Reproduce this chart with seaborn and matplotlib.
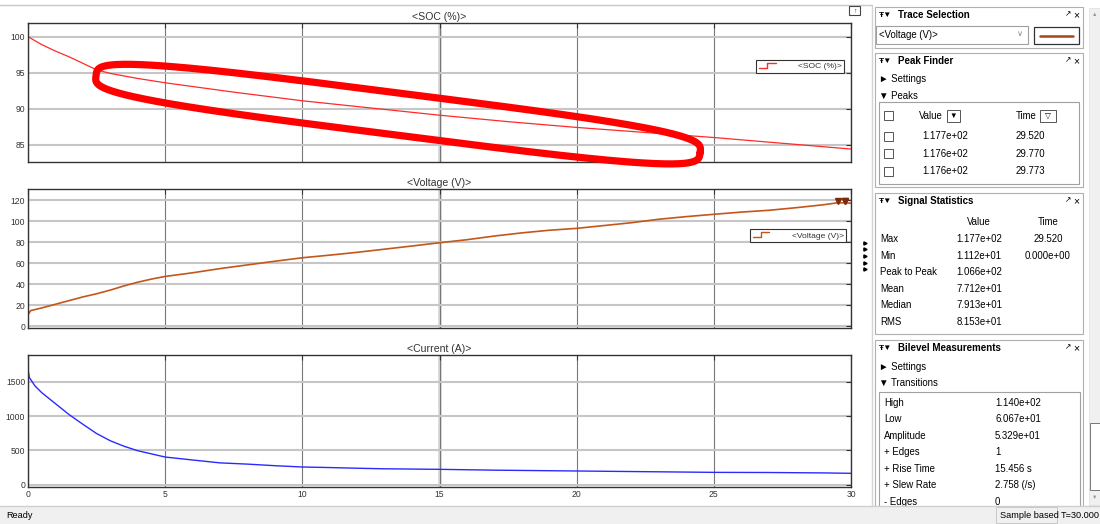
import numpy as np
import pandas as pd
import matplotlib
matplotlib.use("Agg")
import matplotlib.pyplot as plt
import matplotlib.transforms as mtransforms
from matplotlib.patches import Rectangle
from matplotlib.lines import Line2D
from matplotlib.legend_handler import HandlerBase
import seaborn as sns

# ---------------- signal data ----------------
soc_time = [0, 0.5, 1, 1.5, 2, 2.5, 3, 4, 5, 7.5, 10, 12.5, 15, 17.5, 20, 22.5, 25, 27.5, 30]
soc_pct = [100, 98.9, 98.0, 97.2, 96.3, 95.4, 94.9, 94.2, 93.6, 92.3, 91.1, 90.1, 89.1,
           88.2, 87.4, 86.7, 86.0, 85.2, 84.4]

volt_time = [0, 0.1, 0.5, 1, 1.5, 2, 2.5, 3, 3.5, 4, 4.5, 5, 6, 7, 8, 9, 10, 11, 12, 13, 14,
             15, 16, 17, 18, 19, 20, 21, 22, 23, 24, 25, 26, 27, 28, 29, 29.52, 29.77, 30]
volt_v = [11.12, 15, 17.5, 21, 24.5, 28, 31, 34.5, 38.5, 42, 45, 47.5, 51, 55, 58.5, 62, 65.3,
          67.8, 70.5, 73.5, 76.5, 79.6, 82.5, 86, 89, 91.5, 93.3, 96, 98.7, 102, 104.5,
          106.7, 108.8, 110.5, 113, 115.8, 117.7, 117.6, 117.3]

curr_time = [0, 0.05, 0.25, 0.5, 1, 1.5, 2, 2.5, 3, 3.5, 4, 5, 6, 7, 8, 9, 10, 11, 12, 13,
             14, 15, 17, 20, 22, 25, 27, 29, 30]
curr_a = [1680, 1560, 1440, 1340, 1180, 1020, 880, 745, 640, 560, 495, 403, 360, 318, 300,
          277, 258, 250, 240, 232, 228, 224, 212, 200, 192, 180, 178, 172, 166]

x_ticks = [0, 5, 10, 15, 20, 25, 30]
soc_ticks = [85, 90, 95, 100]
volt_ticks = [0, 20, 40, 60, 80, 100, 120]
curr_ticks = [0, 500, 1000, 1500]

# ---------------- measurement panel data ----------------
peak_values = [117.7, 117.6, 117.6]
peak_times = [29.520, 29.770, 29.773]

stat_labels = ["Max", "Min", "Peak to Peak", "Mean", "Median", "RMS"]
stat_values = [117.7, 11.12, 106.6, 77.12, 79.13, 81.53]
stat_times = ["29.520", "0.000e+00", "", "", "", ""]

bilevel_labels = ["High", "Low", "Amplitude", "+ Edges", "+ Rise Time", "+ Slew Rate", "- Edges"]
bilevel_values = ["1.140e+02", "6.067e+01", "5.329e+01", "1", "15.456 s", "2.758 (/s)", "0"]

# ---------------- style ----------------
sns.set_style("white")
plt.rcParams["font.family"] = ["Liberation Sans", "DejaVu Sans"]

W, H = 1100, 524
fig = plt.figure(figsize=(W / 100, H / 100), dpi=100, facecolor="white")


def fx(x):
    return x / W


def fy(y):
    return 1 - y / H


def add_axes_px(left, top, right, bottom):
    return fig.add_axes([fx(left), fy(bottom), (right - left) / W, (bottom - top) / H])


TXT = "#333333"
SOC_RED = "#ff2a2a"
VOLT_BROWN = "#c4561c"
CURR_BLUE = "#2a2aff"
BODY = 6.9


def style_axes(ax, ylim, yticks, title, show_xlabels):
    ax.set_xlim(0, 30)
    ax.set_ylim(*ylim)
    ax.set_xticks(x_ticks)
    ax.set_yticks(yticks)
    ax.set_xlabel("")
    ax.set_ylabel("")
    ax.tick_params(axis="both", direction="in", length=3.5, width=0.8, color="#333333",
                   labelsize=6.2, labelcolor=TXT, top=True, right=True, pad=2)
    if not show_xlabels:
        ax.tick_params(axis="x", labelbottom=False)
    ax.axvline(15, color="#d6d6d6", lw=2.6, zorder=0.4)
    ax.xaxis.grid(True, color="#777777", lw=0.8)
    ax.yaxis.grid(True, color="#c6c6c6", lw=1.5)
    ax.set_axisbelow(True)
    for s in ax.spines.values():
        s.set_color("#333333")
        s.set_linewidth(1.0)
    ax.set_title(title, fontsize=7.6, color=TXT, pad=2.5)


class StepHandler(HandlerBase):
    def create_artists(self, legend, orig_handle, xdescent, ydescent, width, height,
                       fontsize, trans):
        x0, y0 = -xdescent, -ydescent
        xs = [x0, x0 + width * 0.5, x0 + width * 0.5, x0 + width]
        ys = [y0 + 0.05 * height, y0 + 0.05 * height, y0 + 0.95 * height, y0 + 0.95 * height]
        return [Line2D(xs, ys, color=orig_handle.get_color(), lw=1.0, transform=trans)]


def step_legend(ax, color, label, anchor):
    h = Line2D([], [], color=color)
    leg = ax.legend(handles=[h], labels=[label], handler_map={h: StepHandler()},
                    loc="upper right", bbox_to_anchor=anchor, fontsize=6.1, frameon=True,
                    fancybox=False, edgecolor="#333333", framealpha=1, borderpad=0.3,
                    handlelength=2.0, handletextpad=2.6, borderaxespad=0)
    leg.get_frame().set_linewidth(0.8)
    for t in leg.get_texts():
        t.set_color(TXT)


# ---------------- SOC ----------------
ax_soc = add_axes_px(28, 23, 851, 162)
sns.lineplot(data=pd.DataFrame({"t": soc_time, "v": soc_pct}), x="t", y="v", ax=ax_soc,
             color=SOC_RED, lw=0.9)
style_axes(ax_soc, (82.6, 101.9), soc_ticks, "<SOC (%)>", False)
step_legend(ax_soc, SOC_RED, "<SOC (%)>", (0.9915, 0.734))

# ---------------- Voltage ----------------
ax_v = add_axes_px(28, 189, 851, 328)
sns.lineplot(data=pd.DataFrame({"t": volt_time, "v": volt_v}), x="t", y="v", ax=ax_v,
             color=VOLT_BROWN, lw=1.2)
style_axes(ax_v, (-1.6, 130.8), volt_ticks, "<Voltage (V)>", False)
step_legend(ax_v, VOLT_BROWN, "<Voltage (V)>", (0.994, 0.712))
peak_tr = mtransforms.offset_copy(ax_v.transData, fig=fig, x=0, y=1.5, units="points")
ax_v.plot(peak_times, peak_values, ls="none", marker="v", ms=5, color="#7a2c0a",
          transform=peak_tr, clip_on=False, zorder=5)

# ---------------- Current ----------------
ax_c = add_axes_px(28, 355, 851, 487)
sns.lineplot(data=pd.DataFrame({"t": curr_time, "v": curr_a}), x="t", y="v", ax=ax_c,
             color=CURR_BLUE, lw=1.0)
style_axes(ax_c, (-33, 1888), curr_ticks, "<Current (A)>", True)

# ---------------- highlight loop around the SOC trace ----------------
def highlight_loop(ax, start, end, half_width, n=4.0):
    p0 = ax.transData.transform(start)
    p1 = ax.transData.transform(end)
    c = (p0 + p1) / 2
    d = p1 - p0
    a = np.hypot(*d) / 2
    ang = np.arctan2(d[1], d[0])
    th = np.linspace(0, 2 * np.pi, 600)
    u, v = np.cos(th), np.sin(th)
    xs = a * np.sign(u) * np.abs(u) ** (2 / n)
    ys = half_width * np.sign(v) * np.abs(v) ** (2 / n)
    pts = np.column_stack([c[0] + xs * np.cos(ang) - ys * np.sin(ang),
                           c[1] + xs * np.sin(ang) + ys * np.cos(ang)])
    dpts = ax.transData.inverted().transform(pts)
    ax.plot(dpts[:, 0], dpts[:, 1], color="#ff0000", lw=5.2, clip_on=False, zorder=6,
            solid_joinstyle="round", solid_capstyle="round")


highlight_loop(ax_soc, (2.48, 94.6), (24.5, 83.9), 21, n=3.6)

# ---------------- frame decorations ----------------
def rect(x0, y0, x1, y1, fc="white", ec="#a8a8a8", lw=0.8, z=1):
    fig.add_artist(Rectangle((fx(x0), fy(y1)), (x1 - x0) / W, (y1 - y0) / H,
                             transform=fig.transFigure, fc=fc, ec=ec, lw=lw, zorder=z))


def hline(x0, x1, y, color="#c8c8c8", lw=1.0, z=1):
    fig.add_artist(Line2D([fx(x0), fx(x1)], [fy(y), fy(y)], transform=fig.transFigure,
                          color=color, lw=lw, zorder=z))


def vline(x, y0, y1, color="#c8c8c8", lw=1.0, z=1):
    fig.add_artist(Line2D([fx(x), fx(x)], [fy(y0), fy(y1)], transform=fig.transFigure,
                          color=color, lw=lw, zorder=z))


def txt(x, y, s, size=BODY, weight="normal", ha="left", color="black", z=3):
    fig.text(fx(x), fy(y), s, fontsize=size, fontweight=weight, ha=ha, va="center",
             color=color, zorder=z)


hline(0, 872, 5)
vline(872, 6, 506, color="#d4d4d4")

# undock button and axes-list arrows
rect(849, 6, 860, 15, fc="white", ec="#444444", lw=0.8, z=2)
txt(854.5, 11, "↑", size=5, ha="center", color="#333333")
fig.add_artist(Line2D([fx(865)] * 5, [fy(y) for y in (243, 249.5, 256, 262.5, 269)],
                      transform=fig.transFigure, ls="none", marker=">", ms=2.3, color="black"))

# scrollbar
rect(1089, 8, 1100, 505, fc="#f0f0f0", ec="#e2e2e2", lw=0.6)
txt(1094.5, 14, "▲", size=4, ha="center", color="#9a9a9a")
rect(1090, 423, 1100, 490, fc="white", ec="#777777", lw=0.7, z=2)
txt(1094.5, 497, "▼", size=4, ha="center", color="#9a9a9a")


def panel_header(y_top, y_bottom, title):
    rect(875, y_top, 1083, y_bottom, fc="white", ec="#b0b0b0", lw=0.8)
    ty = y_top + 8
    txt(879, ty, "Ŧ▼", size=6, weight="bold")
    txt(898, ty, title, size=7.0, weight="bold")
    txt(1065, ty, "↗", size=5.5)
    txt(1073, ty, "×", size=7.5)


# Trace Selection
panel_header(7, 48, "Trace Selection")
rect(876, 26, 1028, 44, fc="white", ec="#a0a0a0")
txt(879, 35, "<Voltage (V)>")
txt(1020, 35, "∨", size=6, ha="center", color="#8a8a8a")
rect(1034, 27, 1079, 44, fc="white", ec="#333333", lw=0.9)
hline(1040, 1073, 35.5, color="#a5461a", lw=1.8, z=3)

# Peak Finder
panel_header(53, 187, "Peak Finder")
txt(879, 79, "► Settings")
txt(879, 96, "▼ Peaks")
rect(879, 102, 1079, 184, fc="white", ec="#a0a0a0")
rect(884, 111, 893, 120, fc="white", ec="#555555", lw=0.7, z=2)
txt(919, 116, "Value")
rect(947, 110, 960, 122, fc="white", ec="#555555", lw=0.7, z=2)
txt(953.5, 116, "▼", size=5.5, ha="center")
txt(1016, 116, "Time")
rect(1040, 110, 1056, 122, fc="white", ec="#555555", lw=0.7, z=2)
txt(1048, 116, "▽", size=5.5, ha="center")
for i, (pv, pt) in enumerate(zip(peak_values, peak_times)):
    y = 136 + i * 17.5
    rect(884, y - 4.5, 893, y + 4.5, fc="white", ec="#555555", lw=0.7, z=2)
    txt(922, y, f"{pv:.3e}")
    txt(1016, y, f"{pt:.3f}")

# Signal Statistics
panel_header(193, 334, "Signal Statistics")
txt(979, 222, "Value", ha="center")
txt(1048, 222, "Time", ha="center")
for i, (lab, val, tm) in enumerate(zip(stat_labels, stat_values, stat_times)):
    y = 239 + i * 16.6
    txt(880, y, lab)
    txt(979, y, f"{val:.3e}", ha="center")
    if tm:
        txt(1048, y, tm, ha="center")

# Bilevel Measurements
panel_header(340, 512, "Bilevel Measurements")
txt(879, 367, "► Settings")
txt(879, 383, "▼ Transitions")
rect(879, 392, 1080, 515, fc="white", ec="#a0a0a0")
for i, (lab, val) in enumerate(zip(bilevel_labels, bilevel_values)):
    y = 402.5 + i * 16.6
    txt(884, y, lab)
    txt(995, y, val)

# status bar
rect(0, 506, 1100, 524, fc="#f0f0f0", ec="none", lw=0, z=10)
hline(0, 1100, 506, color="#cfcfcf", lw=1.0, z=11)
txt(6, 515, "Ready", size=6.6, z=12)
rect(996, 507, 1057, 523, fc="#f0f0f0", ec="#c8c8c8", lw=0.7, z=11)
txt(1000, 515, "Sample based", size=6.6, z=12)
txt(1061, 515, "T=30.000", size=6.6, z=12)

fig.savefig("out.png", dpi=100, facecolor="white")
